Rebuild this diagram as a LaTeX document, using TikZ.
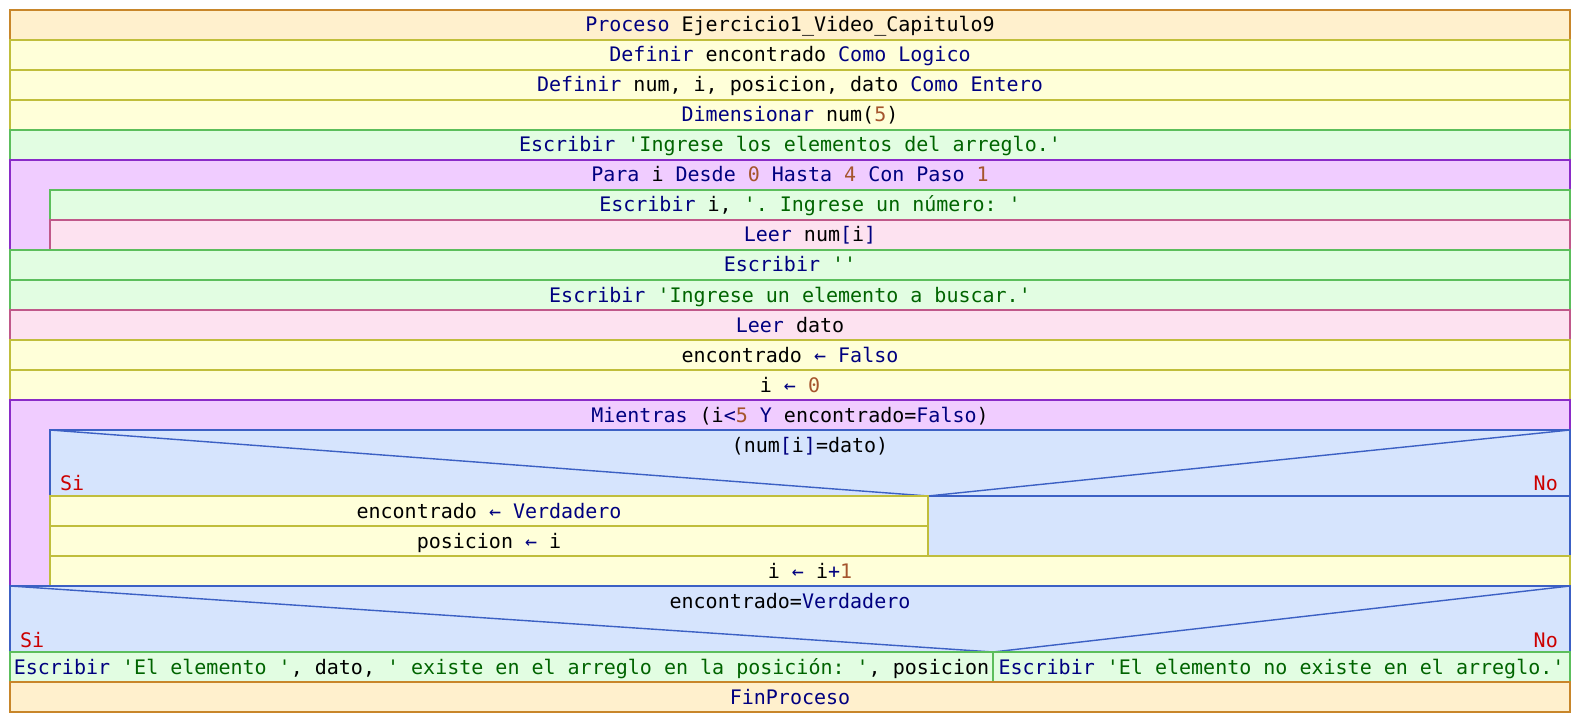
\documentclass[tikz,border=0pt]{standalone}
\usepackage{fontspec}
\setmonofont{DejaVu Sans Mono}
% syntax colours
\definecolor{kwc}{RGB}{0,0,128}
\definecolor{strc}{RGB}{0,100,0}
\definecolor{numc}{RGB}{165,85,45}
\definecolor{brc}{RGB}{204,0,0}
% block colours
\definecolor{procfill}{RGB}{255,240,205}\definecolor{procline}{RGB}{200,134,42}
\definecolor{asgfill}{RGB}{255,255,217}\definecolor{asgline}{RGB}{192,190,60}
\definecolor{outfill}{RGB}{226,253,226}\definecolor{outline}{RGB}{92,190,92}
\definecolor{loopfill}{RGB}{240,204,255}\definecolor{loopline}{RGB}{138,43,200}
\definecolor{infill}{RGB}{253,226,240}\definecolor{inline}{RGB}{192,88,138}
\definecolor{condfill}{RGB}{214,228,253}\definecolor{condline}{RGB}{60,96,196}
\newcommand\Kw[1]{\textcolor{kwc}{#1}}
\newcommand\St[1]{\textcolor{strc}{#1}}
\newcommand\Nm[1]{\textcolor{numc}{#1}}
\begin{document}
\begin{tikzpicture}[x=1pt,y=-1pt,
  blk/.style={line width=1.6pt},
  procblk/.style={blk,draw=procline,fill=procfill},
  asgblk/.style={blk,draw=asgline,fill=asgfill},
  outblk/.style={blk,draw=outline,fill=outfill},
  loopblk/.style={blk,draw=loopline,fill=loopfill},
  inblk/.style={blk,draw=inline,fill=infill},
  condblk/.style={blk,draw=condline,fill=condfill},
  diag/.style={draw=condline,line width=1.4pt},
  code/.style={font=\ttfamily\fontsize{20}{24}\selectfont,inner sep=0pt,anchor=base},
  branch/.style={code,text=brc}]
\useasboundingbox (0,0) rectangle (1580,722);

% header and declarations
\draw[procblk] (10,10) rectangle (1570,40);
\node[code] (t1) at (790,32) {\Kw{Proceso} Ejercicio1\_Video\_Capitulo9};
\draw[asgblk] (10,40) rectangle (1570,70);
\node[code] (t2) at (790,62) {\Kw{Definir} encontrado \Kw{Como Logico}};
\draw[asgblk] (10,70) rectangle (1570,100);
\node[code] (t3) at (790,92) {\Kw{Definir} num, i, posicion, dato \Kw{Como Entero}};
\draw[asgblk] (10,100) rectangle (1570,130);
\node[code] (t4) at (790,122) {\Kw{Dimensionar} num(\Nm{5})};
\draw[outblk] (10,130) rectangle (1570,160);
\node[code] (t5) at (790,152) {\Kw{Escribir} \St{'Ingrese los elementos del arreglo.'}};

% Para loop
\draw[loopblk] (10,160) rectangle (1570,250);
\node[code] (t6) at (790,182) {\Kw{Para} i \Kw{Desde} \Nm{0} \Kw{Hasta} \Nm{4} \Kw{Con Paso} \Nm{1}};
\draw[outblk] (50,190) rectangle (1570,220);
\node[code] (t7) at (810,212) {\Kw{Escribir} i, \St{'. Ingrese un número: '}};
\draw[inblk] (50,220) rectangle (1570,250);
\node[code] (t8) at (810,242) {\Kw{Leer} num\Kw{[}i\Kw{]}};

% input of the searched value
\draw[outblk] (10,250) rectangle (1570,280);
\node[code] (t9) at (790,272) {\Kw{Escribir} \St{''}};
\draw[outblk] (10,280) rectangle (1570,310);
\node[code] (t10) at (790,302) {\Kw{Escribir} \St{'Ingrese un elemento a buscar.'}};
\draw[inblk] (10,310) rectangle (1570,340);
\node[code] (t11) at (790,332) {\Kw{Leer} dato};
\draw[asgblk] (10,340) rectangle (1570,370);
\node[code] (t12) at (790,362) {encontrado \Kw{←} \Kw{Falso}};
\draw[asgblk] (10,370) rectangle (1570,400);
\node[code] (t13) at (790,392) {i \Kw{←} \Nm{0}};

% Mientras loop
\draw[loopblk] (10,400) rectangle (1570,586);
\node[code] (t14) at (790,422) {\Kw{Mientras} (i\Kw{<}\Nm{5} \Kw{Y} encontrado=\Kw{Falso})};
\draw[condblk] (50,430) rectangle (1570,556);
\coordinate (s1) at (928,496);
\draw[diag] (50,430) -- (s1) -- (1570,430);
\draw[condline,line width=1.6pt] (50,496) -- (1570,496);
\node[code] (t15) at (810,452) {(num\Kw{[}i\Kw{]}=dato)};
\node[branch,anchor=base west] (si1) at (60,490) {Si};
\node[branch,anchor=base east] (no1) at (1558,490) {No};
\draw[asgblk] (50,496) rectangle (928,526);
\node[code] (t16) at (489,518) {encontrado \Kw{←} \Kw{Verdadero}};
\draw[asgblk] (50,526) rectangle (928,556);
\node[code] (t17) at (489,548) {posicion \Kw{←} i};
\draw[asgblk] (50,556) rectangle (1570,586);
\node[code] (t18) at (810,578) {i \Kw{←} i\Kw{+}\Nm{1}};

% final decision
\draw[condblk] (10,586) rectangle (1570,652);
\coordinate (s2) at (993,652);
\draw[diag] (10,586) -- (s2) -- (1570,586);
\node[code] (t19) at (790,608) {encontrado=\Kw{Verdadero}};
\node[branch,anchor=base west] (si2) at (20,647) {Si};
\node[branch,anchor=base east] (no2) at (1558,647) {No};
\draw[outblk] (10,652) rectangle (993,682);
\node[code] (t20) at (501.5,674) {\Kw{Escribir} \St{'El elemento '}, dato, \St{' existe en el arreglo en la posición: '}, posicion};
\draw[outblk] (993,652) rectangle (1570,682);
\node[code] (t21) at (1281.5,674) {\Kw{Escribir} \St{'El elemento no existe en el arreglo.'}};

\draw[procblk] (10,682) rectangle (1570,712);
\node[code] (t22) at (790,704) {\Kw{FinProceso}};
\end{tikzpicture}
\end{document}
